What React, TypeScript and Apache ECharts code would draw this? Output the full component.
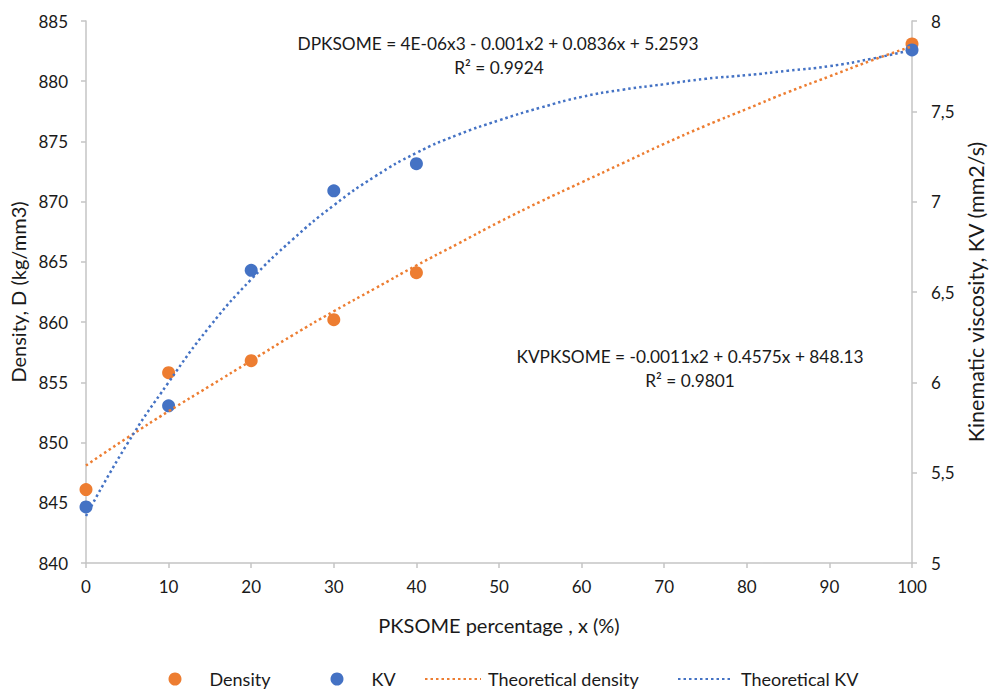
import React, { useEffect, useRef } from "react";
import * as echarts from "echarts";

// Measured data
const xValues = [0, 10, 20, 30, 40, 100];
const densityValues = [846.1, 855.8, 856.8, 860.2, 864.1, 883.1];
const kvValues = [5.31, 5.87, 6.62, 7.06, 7.21, 7.84];

// Trendlines
const trendX = [0, 5, 10, 15, 20, 25, 30, 35, 40, 45, 50, 55, 60, 65, 70, 75, 80, 85, 90, 95, 100];
const trendDensity = [848.1, 850.4, 852.6, 854.7, 856.8, 858.9, 860.9, 862.8, 864.7, 866.5, 868.3, 870.0, 871.6, 873.2, 874.8, 876.3, 877.7, 879.1, 880.4, 881.7, 882.9];
const trendKV = [5.26, 5.66, 6.0, 6.31, 6.57, 6.79, 6.98, 7.14, 7.27, 7.37, 7.45, 7.52, 7.58, 7.62, 7.65, 7.68, 7.7, 7.725, 7.75, 7.79, 7.84];

const seriesNames = ["Density", "KV", "Theoretical density", "Theoretical KV"];
const xAxisTitle = "PKSOME percentage , x (%)";
const leftAxisTitle = "Density, D (kg/mm3)";
const rightAxisTitle = "Kinematic viscosity, KV (mm2/s)";
const eqKV = "DPKSOME = 4E-06x3 - 0.001x2 + 0.0836x + 5.2593";
const r2KV = "R² = 0.9924";
const eqDensity = "KVPKSOME = -0.0011x2 + 0.4575x + 848.13";
const r2Density = "R² = 0.9801";

const ORANGE = "#ED7D31";
const BLUE = "#4472C4";
const FONT = "Lato";
const TEXT = "#1a1a1a";
const AXIS = "#c4c4c4";

export default function App() {
  const ref = useRef<HTMLDivElement>(null);
  useEffect(() => {
    document.body.style.margin = "0";
    if (!ref.current) return;
    const chart = echarts.init(ref.current, null, { renderer: "svg" });
    const zip = (xs: number[], ys: number[]) => xs.map((x, i) => [x, ys[i]]);
    const legendText = { fontFamily: FONT, fontSize: 18, color: TEXT };
    const titleStyle = { fontFamily: FONT, fontSize: 20, color: TEXT };
    const axisCommon = {
      axisLine: { show: true, lineStyle: { color: AXIS, width: 1.5 } },
      axisTick: { show: true, inside: false, length: 5, lineStyle: { color: AXIS, width: 1.5 } },
      splitLine: { show: false },
    };
    const legendTop = 670;
    chart.setOption({
      animation: false,
      backgroundColor: "#ffffff",
      grid: { left: 86, right: 78, top: 21, bottom: 127, containLabel: false, outerBoundsMode: "none" },
      xAxis: {
        type: "value",
        min: 0,
        max: 100,
        interval: 10,
        ...axisCommon,
        axisLabel: { fontFamily: FONT, fontSize: 17, color: TEXT, margin: 15 },
        name: xAxisTitle,
        nameLocation: "middle",
        nameGap: 52,
        nameTextStyle: titleStyle,
      },
      yAxis: [
        {
          type: "value",
          min: 840,
          max: 885,
          interval: 5,
          position: "left",
          ...axisCommon,
          axisLabel: { fontFamily: FONT, fontSize: 17, color: TEXT, margin: 18 },
          name: leftAxisTitle,
          nameLocation: "middle",
          nameRotate: 90,
          nameGap: 54,
          nameTextStyle: titleStyle,
        },
        {
          type: "value",
          min: 5,
          max: 8,
          interval: 0.5,
          position: "right",
          ...axisCommon,
          axisLabel: {
            fontFamily: FONT,
            fontSize: 17,
            color: TEXT,
            margin: 19,
            formatter: (v: number) => String(v).replace(".", ","),
          },
          name: rightAxisTitle,
          nameLocation: "middle",
          nameRotate: 90,
          nameGap: 51,
          nameTextStyle: { ...titleStyle, fontSize: 21.5 },
        },
      ],
      legend: [
        {
          top: legendTop, left: 168.5, padding: 0, itemWidth: 13, itemHeight: 13,
          data: [{ name: seriesNames[0], icon: "circle" }],
          textStyle: { ...legendText, padding: [0, 0, 0, 23] },
        },
        {
          top: legendTop, left: 330.5, padding: 0, itemWidth: 13, itemHeight: 13,
          data: [{ name: seriesNames[1], icon: "circle" }],
          textStyle: { ...legendText, padding: [0, 0, 0, 23] },
        },
        {
          top: legendTop, left: 424, padding: 0, itemWidth: 56, itemHeight: 13,
          data: [seriesNames[2]],
          itemStyle: { opacity: 0 },
          textStyle: { ...legendText, padding: [0, 0, 0, 2] },
        },
        {
          top: legendTop, left: 677, padding: 0, itemWidth: 55, itemHeight: 13,
          data: [seriesNames[3]],
          itemStyle: { opacity: 0 },
          textStyle: { ...legendText, padding: [0, 0, 0, 3] },
        },
      ],
      series: [
        {
          name: seriesNames[0],
          type: "scatter",
          yAxisIndex: 0,
          symbol: "circle",
          symbolSize: 13,
          itemStyle: { color: ORANGE, opacity: 1 },
          data: zip(xValues, densityValues),
          z: 2,
        },
        {
          name: seriesNames[1],
          type: "scatter",
          yAxisIndex: 1,
          symbol: "circle",
          symbolSize: 13,
          itemStyle: { color: BLUE, opacity: 1 },
          data: zip(xValues, kvValues),
          z: 2,
        },
        {
          name: seriesNames[2],
          type: "line",
          yAxisIndex: 0,
          smooth: true,
          symbol: "none",
          showSymbol: false,
          itemStyle: { color: ORANGE },
          lineStyle: { color: ORANGE, width: 2.5, type: [2.5, 3], cap: "butt" },
          data: zip(trendX, trendDensity),
          z: 3,
        },
        {
          name: seriesNames[3],
          type: "line",
          yAxisIndex: 1,
          smooth: true,
          symbol: "none",
          showSymbol: false,
          itemStyle: { color: BLUE },
          lineStyle: { color: BLUE, width: 2.5, type: [2.5, 3], cap: "butt" },
          data: zip(trendX, trendKV),
          z: 3,
        },
      ],
      graphic: [
        {
          type: "text", x: 498, y: 43,
          style: { text: eqKV, fontFamily: FONT, fontSize: 17.3, fill: TEXT, align: "center", verticalAlign: "middle" },
        },
        {
          type: "text", x: 499, y: 67,
          style: { text: r2KV, fontFamily: FONT, fontSize: 17.3, fill: TEXT, align: "center", verticalAlign: "middle" },
        },
        {
          type: "text", x: 690, y: 356,
          style: { text: eqDensity, fontFamily: FONT, fontSize: 17.3, fill: TEXT, align: "center", verticalAlign: "middle" },
        },
        {
          type: "text", x: 690, y: 380,
          style: { text: r2Density, fontFamily: FONT, fontSize: 17.3, fill: TEXT, align: "center", verticalAlign: "middle" },
        },
      ],
    });
    return () => chart.dispose();
  }, []);
  return <div ref={ref} style={{ width: 990, height: 690 }} />;
}
